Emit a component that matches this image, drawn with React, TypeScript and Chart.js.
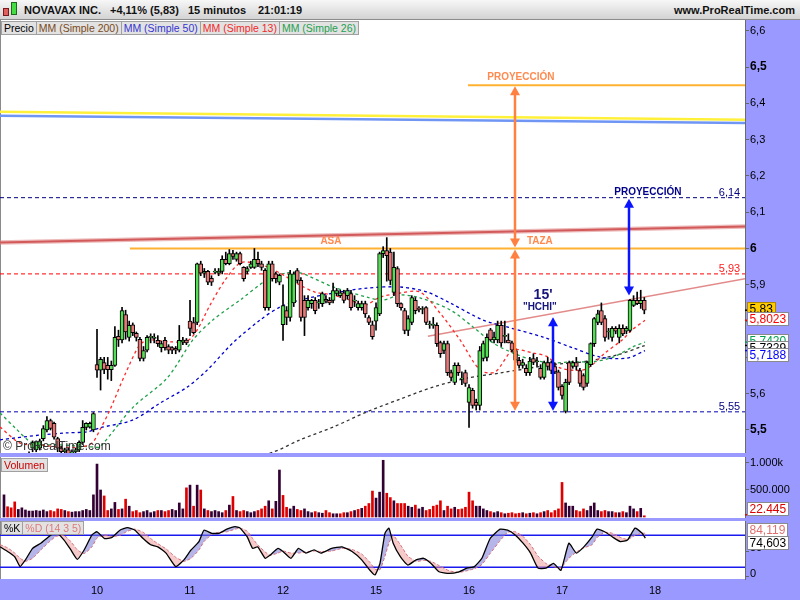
import React, { useEffect, useRef } from "react";
import { Chart, registerables } from "chart.js";
Chart.register(...registerables);

// ---------------- DATA ----------------
const OPEN = [
  5.432, 5.425, 5.42, 5.415, 5.41, 5.415, 5.42, 5.425, 5.45, 5.445,
  5.45, 5.476, 5.5, 5.526, 5.518, 5.476, 5.45, 5.44, 5.445, 5.435,
  5.44, 5.445, 5.466, 5.507, 5.508, 5.5,
  5.68, 5.665, 5.686, 5.678, 5.666, 5.678, 5.758, 5.748, 5.818, 5.755,
  5.79, 5.766, 5.75, 5.697, 5.72, 5.755, 5.752, 5.747, 5.727, 5.747,
  5.73, 5.727, 5.725, 5.72, 5.742, 5.748,
  5.8, 5.796, 5.796, 5.958, 5.932, 5.937, 5.918, 5.935, 5.932, 5.937,
  5.97, 5.958, 5.986, 5.97, 5.986, 5.948, 5.937, 5.948, 5.948, 5.97,
  5.958, 5.94, 5.837, 5.958, 5.93, 5.907,
  5.79, 5.829, 5.81, 5.85, 5.939, 5.912, 5.857, 5.837, 5.848, 5.857,
  5.85, 5.848, 5.86, 5.857, 5.857, 5.876, 5.87, 5.878, 5.87, 5.876,
  5.855, 5.837, 5.837, 5.848, 5.81, 5.79,
  5.8, 5.82, 5.986, 5.994, 5.99, 5.879, 5.945, 5.848, 5.829, 5.774,
  5.796, 5.857, 5.835, 5.832, 5.837, 5.79, 5.788, 5.788, 5.741, 5.719,
  5.738, 5.658, 5.631, 5.678, 5.64, 5.658,
  5.576, 5.609, 5.576, 5.568, 5.697, 5.7, 5.776, 5.748, 5.748, 5.788,
  5.758, 5.748, 5.74, 5.719, 5.692, 5.678, 5.67, 5.658, 5.697, 5.688,
  5.67, 5.645, 5.686, 5.686, 5.675, 5.66,
  5.62, 5.551, 5.686, 5.675, 5.686, 5.664, 5.65, 5.628, 5.68, 5.738,
  5.796, 5.829, 5.807, 5.77, 5.755, 5.78, 5.755, 5.78, 5.772, 5.774,
  5.843, 5.857, 5.848, 5.857,
];
const HIGH = [
  5.434, 5.43, 5.425, 5.42, 5.418, 5.422, 5.428, 5.44, 5.47, 5.47,
  5.475, 5.512, 5.537, 5.53, 5.522, 5.48, 5.455, 5.45, 5.45, 5.445,
  5.45, 5.47, 5.526, 5.52, 5.522, 5.548,
  5.777, 5.7, 5.7, 5.7, 5.69, 5.785, 5.775, 5.838, 5.83, 5.8,
  5.795, 5.77, 5.755, 5.73, 5.76, 5.765, 5.765, 5.76, 5.745, 5.755,
  5.735, 5.73, 5.73, 5.788, 5.755, 5.752,
  5.857, 5.81, 5.96, 5.965, 5.945, 5.94, 5.925, 5.945, 5.945, 5.98,
  5.99, 5.997, 5.995, 5.99, 5.99, 5.95, 5.95, 5.965, 6.0, 5.99,
  5.965, 5.945, 5.965, 5.965, 5.935, 5.93,
  5.9, 5.84, 5.94, 5.935, 5.945, 5.92, 5.87, 5.87, 5.86, 5.865,
  5.86, 5.88, 5.87, 5.865, 5.905, 5.89, 5.885, 5.885, 5.89, 5.885,
  5.87, 5.855, 5.855, 5.855, 5.815, 5.8,
  5.85, 5.99, 6.005, 6.03, 6.0, 5.99, 5.95, 5.85, 5.835, 5.815,
  5.87, 5.865, 5.84, 5.84, 5.84, 5.8, 5.81, 5.795, 5.745, 5.745,
  5.745, 5.665, 5.685, 5.685, 5.66, 5.665,
  5.625, 5.615, 5.585, 5.73, 5.745, 5.765, 5.78, 5.77, 5.8, 5.8,
  5.8, 5.765, 5.745, 5.725, 5.7, 5.695, 5.68, 5.7, 5.71, 5.7,
  5.68, 5.69, 5.7, 5.69, 5.685, 5.665,
  5.625, 5.64, 5.69, 5.69, 5.7, 5.67, 5.655, 5.69, 5.74, 5.81,
  5.83, 5.85, 5.815, 5.78, 5.785, 5.785, 5.79, 5.79, 5.785, 5.86,
  5.87, 5.88, 5.885, 5.865,
];
const LOW = [
  5.42, 5.415, 5.41, 5.405, 5.4, 5.408, 5.415, 5.42, 5.44, 5.44,
  5.445, 5.47, 5.495, 5.5, 5.475, 5.44, 5.43, 5.43, 5.43, 5.43,
  5.435, 5.44, 5.46, 5.5, 5.505, 5.495,
  5.645, 5.61, 5.655, 5.64, 5.636, 5.675, 5.73, 5.74, 5.75, 5.745,
  5.76, 5.745, 5.69, 5.69, 5.715, 5.74, 5.74, 5.73, 5.715, 5.72,
  5.71, 5.71, 5.71, 5.715, 5.735, 5.735,
  5.76, 5.765, 5.79, 5.925, 5.92, 5.9, 5.898, 5.93, 5.925, 5.93,
  5.955, 5.955, 5.97, 5.965, 5.955, 5.91, 5.93, 5.945, 5.945, 5.95,
  5.94, 5.83, 5.83, 5.91, 5.905, 5.9,
  5.747, 5.79, 5.8, 5.84, 5.905, 5.8, 5.76, 5.83, 5.835, 5.82,
  5.835, 5.84, 5.85, 5.845, 5.85, 5.87, 5.865, 5.85, 5.86, 5.83,
  5.84, 5.83, 5.83, 5.81, 5.79, 5.75,
  5.775, 5.815, 5.975, 5.91, 5.9, 5.87, 5.84, 5.83, 5.765, 5.76,
  5.79, 5.82, 5.825, 5.82, 5.79, 5.78, 5.78, 5.73, 5.7, 5.71,
  5.65, 5.635, 5.625, 5.65, 5.625, 5.62,
  5.507, 5.56, 5.555, 5.555, 5.69, 5.69, 5.745, 5.74, 5.74, 5.73,
  5.74, 5.74, 5.715, 5.685, 5.67, 5.67, 5.65, 5.65, 5.68, 5.675,
  5.64, 5.64, 5.665, 5.655, 5.655, 5.61,
  5.585, 5.547, 5.625, 5.67, 5.665, 5.62, 5.61, 5.62, 5.675, 5.73,
  5.79, 5.79, 5.745, 5.75, 5.745, 5.765, 5.74, 5.76, 5.765, 5.77,
  5.84, 5.845, 5.835, 5.82,
];
const CLOSE = [
  5.425, 5.42, 5.415, 5.41, 5.415, 5.42, 5.425, 5.43, 5.465, 5.468,
  5.47, 5.504, 5.526, 5.504, 5.48, 5.45, 5.44, 5.445, 5.435, 5.44,
  5.445, 5.466, 5.507, 5.518, 5.518, 5.545,
  5.665, 5.695, 5.667, 5.666, 5.678, 5.755, 5.748, 5.829, 5.77, 5.788,
  5.768, 5.755, 5.697, 5.719, 5.755, 5.755, 5.756, 5.738, 5.738, 5.727,
  5.72, 5.72, 5.72, 5.747, 5.748, 5.74,
  5.78, 5.768, 5.958, 5.932, 5.937, 5.907, 5.907, 5.938, 5.938, 5.97,
  5.958, 5.986, 5.978, 5.986, 5.958, 5.917, 5.945, 5.958, 5.97, 5.958,
  5.948, 5.837, 5.958, 5.917, 5.917, 5.926,
  5.843, 5.81, 5.93, 5.93, 5.912, 5.81, 5.81, 5.857, 5.857, 5.829,
  5.85, 5.876, 5.855, 5.85, 5.884, 5.884, 5.878, 5.857, 5.884, 5.837,
  5.855, 5.848, 5.848, 5.82, 5.796, 5.757,
  5.837, 5.986, 5.994, 5.98, 5.912, 5.948, 5.848, 5.837, 5.774, 5.807,
  5.865, 5.829, 5.832, 5.832, 5.796, 5.79, 5.788, 5.738, 5.71, 5.738,
  5.658, 5.645, 5.678, 5.658, 5.64, 5.628,
  5.617, 5.568, 5.568, 5.719, 5.738, 5.755, 5.748, 5.756, 5.788, 5.74,
  5.758, 5.74, 5.72, 5.692, 5.678, 5.686, 5.658, 5.69, 5.686, 5.688,
  5.645, 5.686, 5.675, 5.664, 5.66, 5.617,
  5.595, 5.631, 5.631, 5.686, 5.675, 5.628, 5.617, 5.686, 5.738, 5.807,
  5.82, 5.796, 5.755, 5.77, 5.78, 5.772, 5.78, 5.765, 5.78, 5.857,
  5.857, 5.848, 5.857, 5.83,
];
const VOLUME = [
  410000, 190000, 170000, 280000, 140000, 170000, 130000, 110000, 110000, 120000,
  110000, 130000, 100000, 120000, 100000, 150000, 140000, 120000, 100000, 90000,
  100000, 100000, 120000, 140000, 120000, 410000,
  980000, 500000, 390000, 120000, 150000, 270000, 140000, 150000, 330000, 200000,
  100000, 120000, 80000, 100000, 120000, 80000, 100000, 120000, 120000, 100000,
  120000, 140000, 120000, 260000, 150000, 540000,
  590000, 200000, 590000, 500000, 150000, 120000, 100000, 120000, 100000, 80000,
  120000, 220000, 380000, 120000, 100000, 120000, 100000, 80000, 100000, 120000,
  150000, 200000, 300000, 150000, 290000, 870000,
  400000, 180000, 150000, 200000, 140000, 120000, 150000, 100000, 80000, 100000,
  80000, 70000, 120000, 80000, 60000, 60000, 60000, 80000, 80000, 100000,
  120000, 140000, 160000, 200000, 250000, 480000,
  350000, 460000, 1050000, 440000, 360000, 300000, 250000, 250000, 250000, 200000,
  180000, 220000, 150000, 180000, 120000, 140000, 200000, 220000, 300000, 120000,
  200000, 150000, 180000, 140000, 150000, 180000,
  460000, 300000, 200000, 200000, 150000, 120000, 100000, 80000, 100000, 80000,
  60000, 70000, 80000, 60000, 70000, 80000, 60000, 70000, 80000, 60000,
  80000, 100000, 120000, 80000, 120000, 150000,
  640000, 260000, 200000, 200000, 120000, 100000, 150000, 120000, 200000, 260000,
  120000, 100000, 120000, 100000, 100000, 80000, 80000, 100000, 80000, 200000,
  150000, 100000, 160000, 22445,
];

// moving averages: [bar index, price]
const SMA13 = [
  [-1.1, 5.508], [4.5, 5.464], [10.1, 5.459], [15.7, 5.453], [21.2, 5.453], [24.6, 5.464],
  [26.8, 5.5], [29.6, 5.555], [33.8, 5.652], [38, 5.735], [40.8, 5.748], [46.4, 5.743],
  [51.2, 5.745], [54, 5.776], [57.6, 5.844], [61.8, 5.913], [66, 5.96], [70.2, 5.96],
  [74.4, 5.946], [78.6, 5.924], [82.8, 5.899], [86.9, 5.88], [92, 5.872], [96.7, 5.858],
  [100.9, 5.844], [105.1, 5.866], [110.7, 5.877], [116.3, 5.88], [121.9, 5.822],
  [127.5, 5.748], [133.1, 5.665], [137.3, 5.66], [142.3, 5.72], [147.9, 5.712],
  [152.1, 5.701], [155.4, 5.671], [161.6, 5.665], [164.4, 5.679], [168, 5.712],
  [172.8, 5.748], [175.6, 5.776], [179.2, 5.8023],
];
const SMA26 = [
  [-1.1, 5.547], [3.1, 5.506], [8.1, 5.464], [15.7, 5.459], [25.4, 5.453], [26.8, 5.453],
  [36.1, 5.563], [45.6, 5.643], [52.8, 5.748], [58.4, 5.803], [66, 5.858], [73.5, 5.913],
  [79.1, 5.933], [82.8, 5.933], [92, 5.894], [101.5, 5.866], [106, 5.858], [110.7, 5.872],
  [116.3, 5.864], [124.7, 5.831], [131.1, 5.784], [136.7, 5.74], [142.3, 5.712],
  [147.9, 5.693], [153.5, 5.685], [159.1, 5.688], [164.7, 5.688], [170.3, 5.701],
  [175.8, 5.729], [179.2, 5.742],
];
const SMA50 = [
  [-1.1, 5.473], [10.1, 5.486], [17.6, 5.492], [23.2, 5.495], [26.8, 5.506], [36.1, 5.528],
  [43.6, 5.574], [51.2, 5.618], [56.8, 5.665], [64, 5.74], [71.6, 5.803], [77.2, 5.839],
  [82.8, 5.858], [92, 5.877], [101.5, 5.891], [110.7, 5.894], [118.3, 5.88], [124.7, 5.85],
  [133.9, 5.803], [140.6, 5.784], [150.7, 5.756], [159.1, 5.726], [166.6, 5.701],
  [174.2, 5.698], [179.2, 5.7188],
];
const SMA200 = [
  [66, 5.417], [75.2, 5.439], [82.8, 5.473], [92, 5.508], [101.5, 5.55], [110.7, 5.585],
  [119.9, 5.618], [129.4, 5.643], [138.7, 5.657], [152.6, 5.679], [161.9, 5.688],
  [171.4, 5.707], [179.2, 5.7329],
];

// stochastic (14,3,5)
const STOCH_X = [
  -1.1, 1, 3, 4.5, 6, 8, 10.3, 12.4, 14.5, 16.8, 18.7, 20.5, 22.4, 24.6, 26, 28.1, 30.2,
  32.4, 34.5, 36.6, 38.9, 41, 43, 45.3, 48, 50.3, 52.3, 54.5, 55.9, 58.1, 60.1, 62.3,
  64.6, 66, 68, 69.5, 70.9, 73, 74.4, 76.6, 78, 80.2, 82.3, 84.4, 86.7, 88.6, 91.6,
  94.5, 97.3, 100, 102.3, 103.7, 105.1, 106.5, 107.6, 108.8, 110.8, 112.9, 115.2,
  117.3, 119.4, 121.6, 124.4, 127.2, 129.4, 131.5, 133.6, 135.9, 138.7, 140.8, 142.9,
  145.1, 147.2, 149.3, 151.5, 153.6, 155.7, 157.9, 160, 162.1, 164.4, 165.8, 167.9,
  170.1, 172.3, 174.3, 176.4, 178.4, 179.3,
];
const STOCH_K = [
  58, 49, 39, 20, 33, 55, 65, 77, 87, 71, 52, 34, 52, 81, 87, 74, 76, 90, 95, 90, 74,
  62, 58, 46, 20, 33, 52, 68, 90, 84, 84, 92, 97, 94, 77, 55, 58, 36, 42, 55, 49, 36,
  55, 46, 52, 46, 55, 58, 49, 33, 13, 4, 26, 84, 94, 65, 39, 23, 33, 36, 26, 10, 7, 10,
  17, 20, 36, 74, 92, 90, 81, 65, 46, 17, 17, 26, 13, 65, 46, 58, 77, 92, 87, 77, 68,
  71, 94, 84, 74.603,
];
const STOCH_D = [
  62, 56, 46, 36, 30, 36, 52, 66, 78, 80, 68, 52, 45, 58, 75, 81, 78, 80, 88, 92, 86,
  74, 64, 54, 38, 30, 36, 52, 68, 82, 86, 87, 92, 94, 88, 74, 62, 48, 42, 46, 50, 46,
  46, 48, 50, 49, 50, 55, 53, 44, 28, 15, 14, 40, 65, 80, 62, 40, 30, 32, 30, 22, 12,
  9, 12, 16, 24, 45, 70, 86, 87, 78, 62, 40, 26, 20, 18, 36, 48, 56, 62, 76, 86, 84,
  76, 72, 80, 84, 84.119,
];

const DAY_TICKS = [26, 52, 78, 104, 130, 156, 182];
const DAY_LABELS = ["10", "11", "12", "15", "16", "17", "18"];
const PRICE_TICKS = [5.5, 5.6, 5.7, 5.8, 5.9, 6.0, 6.1, 6.2, 6.3, 6.4, 6.5, 6.6];
const VOLUME_TICKS = [500000, 1000000];
const STOCH_TICKS = [0, 50];

// drawn objects (price levels / trend lines)
const LEVEL_RIM = 6.0;
const LEVEL_SUPPORT = 5.55;
const LEVEL_TARGET_CUP = 6.45;
const LEVEL_TARGET_HCHI = 6.14;
const LEVEL_RESIST = 5.93;
const CHANNEL_YELLOW = [6.377, 6.355];
const CHANNEL_BLUE = [6.366, 6.346];
const TREND_RED = [6.0165, 6.0606];
const NECK_X = [118.5, 207.15];
const NECK_Y = [5.758, 5.917];
const HCHI_TOP = 5.813;
const HCHI_BREAK = 5.868;

// ---------------- LAYOUT CONSTANTS ----------------
const X_MIN = -1.118;
const X_MAX = 207.15;
const PRICE_MIN = 5.4366;
const PRICE_MAX = 6.6295;
const VOL_MIN = -18500;
const VOL_MAX = 1111000;
const STO_MIN = -3.85;
const STO_MAX = 107.7;
const AXIS_BG = "#9999ff";
const FONT = "Arial, 'Liberation Sans', sans-serif";

const comma = (v: number, d: number) => v.toFixed(d).replace(".", ",");

function paintBackground(chart: any) {
  const { ctx, chartArea: a, width, height } = chart;
  ctx.save();
  ctx.fillStyle = "#ffffff";
  ctx.fillRect(0, 0, width, height);
  ctx.fillStyle = AXIS_BG;
  ctx.fillRect(a.right, 0, width - a.right, height);
  if (a.bottom < height) ctx.fillRect(0, a.bottom, width, height - a.bottom);
  ctx.strokeStyle = "#8a8a8a";
  ctx.lineWidth = 1;
  ctx.beginPath();
  ctx.moveTo(0.5, a.top);
  ctx.lineTo(0.5, a.bottom);
  ctx.stroke();
  ctx.restore();
}

function drawBox(ctx: any, x: number, yc: number, text: string, color: string, bg: string, border: string) {
  ctx.save();
  ctx.font = `12px ${FONT}`;
  const w = Math.ceil(ctx.measureText(text).width) + 5;
  const h = 14;
  const top = Math.round(yc - h / 2);
  ctx.fillStyle = bg;
  ctx.fillRect(x, top, w, h);
  ctx.strokeStyle = border;
  ctx.lineWidth = 1;
  ctx.strokeRect(x + 0.5, top + 0.5, w - 1, h - 1);
  ctx.fillStyle = color;
  ctx.textAlign = "left";
  ctx.textBaseline = "middle";
  ctx.fillText(text, x + 2.5, top + h / 2 + 0.5);
  ctx.restore();
}

function rightAxis(min: number, max: number, ticks: number[], label: (v: number) => string, boldFn?: (v: number) => boolean, labelOffset = 0) {
  return {
    type: "linear",
    position: "right",
    min,
    max,
    afterBuildTicks: (s: any) => {
      s.ticks = ticks.map((v) => ({ value: v }));
    },
    afterFit: (s: any) => {
      s.width = 55;
      s.paddingTop = 0;
      s.paddingBottom = 0;
    },
    grid: { drawOnChartArea: false, drawTicks: true, tickLength: 4, color: "#666666" },
    border: { display: true, color: "#6a6a6a" },
    ticks: {
      padding: 1,
      color: "#000000",
      autoSkip: false,
      labelOffset,
      callback: (v: any) => label(Number(v)),
      font: (c: any) => {
        const v = c.tick ? c.tick.value : 0;
        const b = boldFn ? boldFn(v) : false;
        return { family: FONT, size: b ? 12 : 11, weight: b ? "bold" : "normal" };
      },
    },
  };
}

const hiddenX = () => ({ type: "linear", min: X_MIN, max: X_MAX, display: false, offset: false });

function mainConfig(): any {
  const idx = CLOSE.map((_, i) => i);
  const bodyColors = idx.map((i) => (CLOSE[i] >= OPEN[i] ? "#55dd55" : "#e87878"));
  const maLine = (pts: number[][], color: string, order: number) => ({
    type: "line",
    data: pts.map((p) => ({ x: p[0], y: p[1] })),
    borderColor: color,
    borderWidth: 1.3,
    borderDash: [3, 3],
    pointRadius: 0,
    tension: 0.3,
    fill: false,
    order,
  });
  const plugin = {
    id: "mainDecor",
    beforeDraw: paintBackground,
    beforeDatasetsDraw(chart: any) {
      const { ctx, chartArea: a, scales } = chart;
      const X = (v: number) => scales.x.getPixelForValue(v);
      const Y = (v: number) => scales.y.getPixelForValue(v);
      ctx.save();
      ctx.beginPath();
      ctx.rect(a.left, a.top, a.right - a.left, a.bottom - a.top);
      ctx.clip();
      const seg = (x1: number, y1: number, x2: number, y2: number, color: string, w: number, dash: number[] = []) => {
        ctx.beginPath();
        ctx.setLineDash(dash);
        ctx.strokeStyle = color;
        ctx.lineWidth = w;
        ctx.moveTo(X(x1), Y(y1));
        ctx.lineTo(X(x2), Y(y2));
        ctx.stroke();
      };
      seg(X_MIN, CHANNEL_YELLOW[0], X_MAX, CHANNEL_YELLOW[1], "#fff03a", 2.5);
      seg(X_MIN, CHANNEL_BLUE[0], X_MAX, CHANNEL_BLUE[1], "#6f95f5", 2.5);
      seg(X_MIN, TREND_RED[0], X_MAX, TREND_RED[1], "rgba(225,140,140,0.6)", 4.5);
      seg(X_MIN, TREND_RED[0], X_MAX, TREND_RED[1], "#d35a5a", 2);
      seg(35.2, LEVEL_RIM, X_MAX, LEVEL_RIM, "#ffb232", 2);
      seg(129.7, LEVEL_TARGET_CUP, X_MAX, LEVEL_TARGET_CUP, "#ffb232", 2);
      seg(X_MIN, LEVEL_RESIST, X_MAX, LEVEL_RESIST, "#ff0000", 1, [4, 3]);
      seg(X_MIN, LEVEL_TARGET_HCHI, X_MAX, LEVEL_TARGET_HCHI, "#000080", 1, [4, 3]);
      seg(X_MIN, LEVEL_SUPPORT, X_MAX, LEVEL_SUPPORT, "#0000b0", 1, [4, 3]);
      seg(NECK_X[0], NECK_Y[0], NECK_X[1], NECK_Y[1], "#e38b8b", 1.5);
      ctx.restore();
    },
    afterDatasetsDraw(chart: any) {
      const { ctx, scales } = chart;
      const X = (v: number) => scales.x.getPixelForValue(v);
      const Y = (v: number) => scales.y.getPixelForValue(v);
      ctx.save();
      ctx.setLineDash([]);
      const arrow = (xv: number, top: number, bottom: number, color: string, w: number) => {
        const x = Math.round(X(xv));
        const yt = Y(top) + 1;
        const yb = Y(bottom) - 1;
        const hw = 5;
        const hh = 9;
        ctx.strokeStyle = color;
        ctx.lineWidth = w;
        ctx.beginPath();
        ctx.moveTo(x, yt + hh - 1);
        ctx.lineTo(x, yb - hh + 1);
        ctx.stroke();
        ctx.fillStyle = color;
        ctx.beginPath();
        ctx.moveTo(x, yt);
        ctx.lineTo(x - hw, yt + hh);
        ctx.lineTo(x + hw, yt + hh);
        ctx.closePath();
        ctx.fill();
        ctx.beginPath();
        ctx.moveTo(x, yb);
        ctx.lineTo(x - hw, yb - hh);
        ctx.lineTo(x + hw, yb - hh);
        ctx.closePath();
        ctx.fill();
      };
      arrow(142.9, LEVEL_TARGET_CUP, LEVEL_RIM, "#ff8040", 2.5);
      arrow(142.9, LEVEL_RIM, LEVEL_SUPPORT, "#ff8040", 2.5);
      arrow(153.5, HCHI_TOP, LEVEL_SUPPORT, "#0a14ff", 2.5);
      arrow(174.7, LEVEL_TARGET_HCHI, HCHI_BREAK, "#0a14ff", 2.5);

      const text = (t: string, xv: number, yv: number, font: string, color: string, align = "center") => {
        ctx.font = font;
        ctx.fillStyle = color;
        ctx.textAlign = align;
        ctx.textBaseline = "middle";
        ctx.fillText(t, X(xv), Y(yv));
      };
      const bold10 = `bold 10px ${FONT}`;
      text("PROYECCIÓN", 144.5, 6.4725, bold10, "#ff8a50");
      text("ASA", 91.4, 6.0207, bold10, "#ff8a50");
      text("TAZA", 149.8, 6.0207, bold10, "#ff8a50");
      text("PROYECCIÓN", 180, 6.156, bold10, "#00008b");
      text("6,14", 205.8, 6.153, `11px ${FONT}`, "#000080", "right");
      text("5,93", 205.8, 5.944, `11px ${FONT}`, "#ff2020", "right");
      text("5,55", 205.8, 5.563, `11px ${FONT}`, "#000080", "right");
      text("15'", 150.7, 5.872, `bold 14px ${FONT}`, "#14147a");
      text('"HCHI"', 149.8, 5.837, bold10, "#14147a");
      ctx.restore();
    },
    afterDraw(chart: any) {
      const { ctx, chartArea: a, scales } = chart;
      const Y = (v: number) => scales.y.getPixelForValue(v);
      const last = CLOSE.length - 1;
      const items = [
        { v: CLOSE[last], t: comma(CLOSE[last], 2), c: "#000000", bg: "#ffcc00", b: "#b08800" },
        { v: SMA13[SMA13.length - 1][1], t: comma(SMA13[SMA13.length - 1][1], 4), c: "#ff0000", bg: "#ffffff", b: "#8a8a8a" },
        { v: SMA26[SMA26.length - 1][1], t: comma(SMA26[SMA26.length - 1][1], 4), c: "#00a050", bg: "#ffffff", b: "#8a8a8a" },
        { v: SMA200[SMA200.length - 1][1], t: comma(SMA200[SMA200.length - 1][1], 4), c: "#000000", bg: "#ffffff", b: "#8a8a8a" },
        { v: SMA50[SMA50.length - 1][1], t: comma(SMA50[SMA50.length - 1][1], 4), c: "#0000ff", bg: "#ffffff", b: "#8a8a8a" },
      ];
      let prev = -100;
      items.forEach((it) => {
        const y = Y(it.v);
        ctx.save();
        ctx.strokeStyle = it.c;
        ctx.lineWidth = 1.5;
        ctx.beginPath();
        ctx.moveTo(a.right, y);
        ctx.lineTo(a.right + 4, y);
        ctx.stroke();
        ctx.restore();
        const yc = Math.max(y - 1, prev + 7);
        drawBox(ctx, a.right + 2, yc, it.t, it.c, it.bg, it.b);
        prev = yc;
      });
    },
  };
  return {
    type: "line",
    data: {
      datasets: [
        {
          type: "bar",
          data: idx.map((i) => ({ x: i, y: [OPEN[i], CLOSE[i]] })),
          backgroundColor: bodyColors,
          borderColor: "#000000",
          borderWidth: 1,
          borderSkipped: false,
          barThickness: 4,
          minBarLength: 1,
          grouped: false,
          order: 1,
        },
        {
          type: "bar",
          data: idx.map((i) => ({ x: i, y: [LOW[i], HIGH[i]] })),
          backgroundColor: "#000000",
          borderWidth: 0,
          barThickness: 1,
          grouped: false,
          order: 2,
        },
        maLine(SMA200, "#333333", 6),
        maLine(SMA50, "#0000cc", 5),
        maLine(SMA26, "#1fa04a", 4),
        maLine(SMA13, "#ff2a2a", 3),
      ],
    },
    options: {
      responsive: false,
      animation: false,
      events: [],
      layout: { padding: 0 },
      plugins: { legend: { display: false }, tooltip: { enabled: false } },
      scales: {
        x: hiddenX(),
        y: rightAxis(
          PRICE_MIN,
          PRICE_MAX,
          PRICE_TICKS,
          (v) => (Math.abs(v - Math.round(v)) < 1e-9 ? String(Math.round(v)) : comma(v, 1)),
          (v) => Math.abs(v * 2 - Math.round(v * 2)) < 1e-9
        ),
      },
    },
    plugins: [plugin],
  };
}

function volumeConfig(): any {
  const idx = VOLUME.map((_, i) => i);
  const colors = idx.map((i) => (i === 0 || CLOSE[i] >= CLOSE[i - 1] ? "#330033" : "#dd0000"));
  const plugin = {
    id: "volDecor",
    beforeDraw: paintBackground,
    afterDraw(chart: any) {
      const { ctx, chartArea: a, scales } = chart;
      const lastV = VOLUME[VOLUME.length - 1];
      const y = scales.y.getPixelForValue(lastV);
      ctx.save();
      ctx.strokeStyle = "#dd0000";
      ctx.lineWidth = 1.5;
      ctx.beginPath();
      ctx.moveTo(a.right, y - 1);
      ctx.lineTo(a.right + 4, y - 1);
      ctx.stroke();
      ctx.restore();
      drawBox(ctx, a.right + 2, Math.min(y, a.bottom - 9), lastV.toLocaleString("de-DE"), "#dd0000", "#ffffff", "#8a8a8a");
    },
  };
  return {
    type: "line",
    data: {
      datasets: [
        {
          type: "bar",
          data: idx.map((i) => ({ x: i, y: VOLUME[i] })),
          backgroundColor: colors,
          barThickness: 2,
          grouped: false,
        },
      ],
    },
    options: {
      responsive: false,
      animation: false,
      events: [],
      layout: { padding: 0 },
      plugins: { legend: { display: false }, tooltip: { enabled: false } },
      scales: {
        x: hiddenX(),
        y: rightAxis(VOL_MIN, VOL_MAX, VOLUME_TICKS, (v) => (v >= 1000000 ? "1.000k" : v.toLocaleString("de-DE"))),
      },
    },
    plugins: [plugin],
  };
}

function stochConfig(): any {
  const plugin = {
    id: "stoDecor",
    beforeDraw: paintBackground,
    beforeDatasetsDraw(chart: any) {
      const { ctx, chartArea: a, scales } = chart;
      ctx.save();
      ctx.strokeStyle = "#1a1aee";
      ctx.lineWidth = 1.5;
      [80, 20].forEach((v) => {
        const y = Math.round(scales.y.getPixelForValue(v)) + 0.25;
        ctx.beginPath();
        ctx.moveTo(a.left, y);
        ctx.lineTo(a.right, y);
        ctx.stroke();
      });
      ctx.restore();
    },
    afterDraw(chart: any) {
      const { ctx, chartArea: a, scales } = chart;
      const d = STOCH_D[STOCH_D.length - 1];
      const k = STOCH_K[STOCH_K.length - 1];
      const yd = Math.max(scales.y.getPixelForValue(d) - 3, a.top + 8);
      drawBox(ctx, a.right + 2, yd, comma(d, 3), "#e07070", "#ffffff", "#8a8a8a");
      const yk = Math.max(scales.y.getPixelForValue(k), yd + 13);
      drawBox(ctx, a.right + 2, yk, comma(k, 3), "#000000", "#ffffff", "#8a8a8a");
    },
  };
  return {
    type: "line",
    data: {
      datasets: [
        {
          data: STOCH_X.map((x, i) => ({ x, y: STOCH_K[i] })),
          borderColor: "#000000",
          borderWidth: 1.3,
          pointRadius: 0,
          tension: 0.15,
          fill: { target: 1, above: "rgba(120,120,215,0.55)", below: "rgba(240,150,150,0.5)" },
          order: 0,
        },
        {
          data: STOCH_X.map((x, i) => ({ x, y: STOCH_D[i] })),
          borderColor: "#e06666",
          borderWidth: 1,
          borderDash: [3, 2],
          pointRadius: 0,
          tension: 0.15,
          fill: false,
          order: 1,
        },
      ],
    },
    options: {
      responsive: false,
      animation: false,
      events: [],
      layout: { padding: 0 },
      plugins: { legend: { display: false }, tooltip: { enabled: false } },
      scales: {
        x: {
          type: "linear",
          min: X_MIN,
          max: X_MAX,
          offset: false,
          position: "bottom",
          afterBuildTicks: (s: any) => {
            s.ticks = DAY_TICKS.map((v) => ({ value: v }));
          },
          afterFit: (s: any) => {
            s.height = 21;
            s.paddingLeft = 0;
            s.paddingRight = 0;
          },
          grid: { display: false, drawTicks: false },
          border: { display: false },
          ticks: {
            padding: 5,
            color: "#000000",
            maxRotation: 0,
            autoSkip: false,
            font: { family: FONT, size: 11 },
            callback: (v: any) => DAY_LABELS[DAY_TICKS.indexOf(Number(v))] ?? "",
          },
        },
        y: rightAxis(STO_MIN, STO_MAX, STOCH_TICKS, (v) => String(v), undefined, -3),
      },
    },
    plugins: [plugin],
  };
}

const boxStyle: React.CSSProperties = {
  height: 14,
  lineHeight: "12px",
  fontSize: 10.5,
  background: "#e2e2e2",
  border: "1px solid #a0a0a0",
  boxSizing: "border-box",
  textAlign: "center",
  whiteSpace: "nowrap",
  padding: "0 2px",
  marginRight: -1,
};

export default function App() {
  const mainRef = useRef<HTMLCanvasElement>(null);
  const volRef = useRef<HTMLCanvasElement>(null);
  const stoRef = useRef<HTMLCanvasElement>(null);

  useEffect(() => {
    const charts = [
      new Chart(mainRef.current as HTMLCanvasElement, mainConfig()),
      new Chart(volRef.current as HTMLCanvasElement, volumeConfig()),
      new Chart(stoRef.current as HTMLCanvasElement, stochConfig()),
    ];
    return () => charts.forEach((c) => c.destroy());
  }, []);

  const hdr: React.CSSProperties = { position: "absolute", top: 3, fontSize: 11, fontWeight: "bold", color: "#111", whiteSpace: "nowrap", lineHeight: "14px" };
  const row = (top: number): React.CSSProperties => ({ position: "absolute", left: 1, top, display: "flex" });

  return (
    <div style={{ position: "fixed", left: 0, top: 0, width: 800, height: 600, background: AXIS_BG, overflow: "hidden", fontFamily: FONT }}>
      <div style={{ position: "absolute", left: 0, top: 0, width: 800, height: 20, background: "linear-gradient(#f7f7f7, #d3d3d3)", borderBottom: "1px solid #8c8c8c", boxSizing: "border-box" }}>
        <div style={{ position: "absolute", left: 3, top: 8, width: 6, height: 8, background: "#e06060", border: "1px solid #7a1a1a", boxSizing: "border-box" }} />
        <div style={{ position: "absolute", left: 11, top: 2, width: 6, height: 13, background: "#44dd44", border: "1px solid #1a6a1a", boxSizing: "border-box" }} />
        <div style={{ ...hdr, left: 24 }}>NOVAVAX INC.</div>
        <div style={{ ...hdr, left: 110 }}>+4,11% (5,83)</div>
        <div style={{ ...hdr, left: 188 }}>15 minutos</div>
        <div style={{ ...hdr, left: 258 }}>21:01:19</div>
        <div style={{ ...hdr, right: 5 }}>www.ProRealTime.com</div>
      </div>

      <canvas ref={mainRef} width={800} height={433} style={{ position: "absolute", left: 0, top: 20, width: 800, height: 433 }} />
      <canvas ref={volRef} width={800} height={61} style={{ position: "absolute", left: 0, top: 457, width: 800, height: 61 }} />
      <canvas ref={stoRef} width={800} height={79} style={{ position: "absolute", left: 0, top: 521, width: 800, height: 79 }} />

      <div style={row(21)}>
        <div style={{ ...boxStyle, color: "#000" }}>Precio</div>
        <div style={{ ...boxStyle, color: "#7a4a1a" }}>MM (Simple 200)</div>
        <div style={{ ...boxStyle, color: "#3535d0" }}>MM (Simple 50)</div>
        <div style={{ ...boxStyle, color: "#f02a2a" }}>MM (Simple 13)</div>
        <div style={{ ...boxStyle, color: "#24a050" }}>MM (Simple 26)</div>
      </div>

      <div style={{ position: "absolute", left: 3, top: 439, fontSize: 12, color: "#333", whiteSpace: "nowrap" }}>© ProRealTime.com</div>

      <div style={row(458)}>
        <div style={{ ...boxStyle, color: "#cc0000" }}>Volumen</div>
      </div>
      <div style={row(521)}>
        <div style={{ ...boxStyle, color: "#000" }}>%K</div>
        <div style={{ ...boxStyle, color: "#e07878" }}>%D (14 3 5)</div>
      </div>
    </div>
  );
}
